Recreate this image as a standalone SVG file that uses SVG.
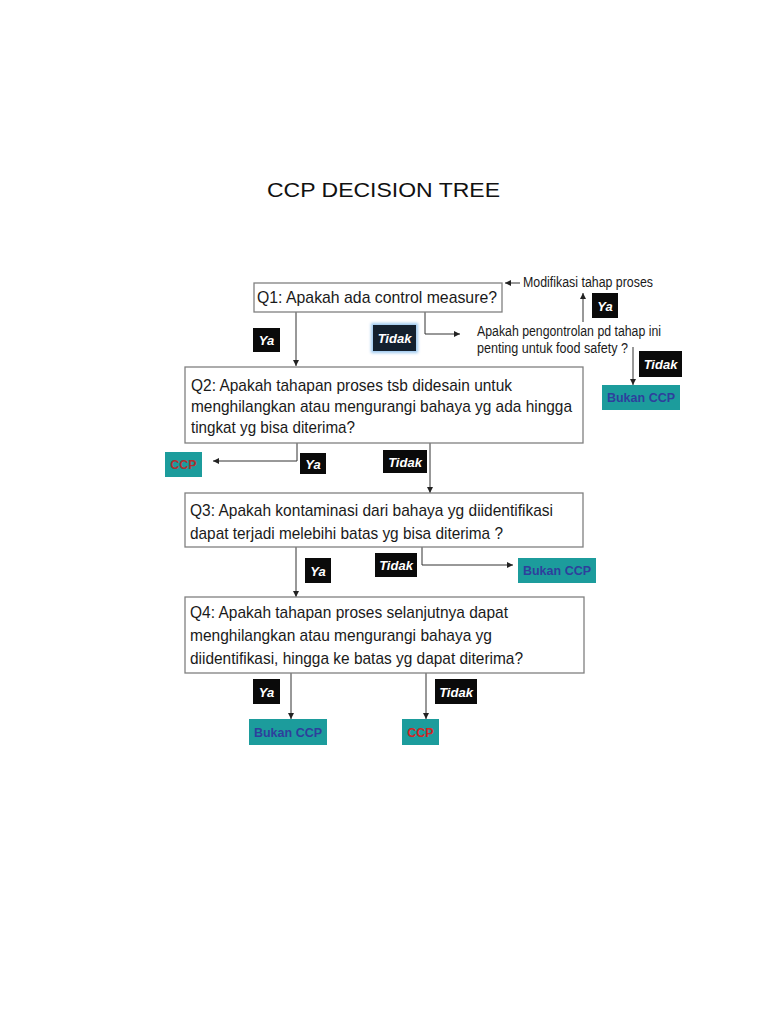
<svg xmlns="http://www.w3.org/2000/svg" width="768" height="1024" viewBox="0 0 768 1024">
<defs>
<marker id="arr" viewBox="0 0 10 10" refX="10" refY="5" markerWidth="6" markerHeight="6" markerUnits="userSpaceOnUse" orient="auto">
<path d="M0,0 L10,5 L0,10 z" fill="#222"/>
</marker>
<filter id="glow" x="-30%" y="-30%" width="160%" height="160%">
<feGaussianBlur stdDeviation="1.5"/>
</filter>
</defs>
<style>
.q{fill:#fff;stroke:#808080;stroke-width:1.3}
.qt{font-family:"Liberation Sans",Arial,sans-serif;font-size:17px;fill:#1a1a1a}
.st{font-family:"Liberation Sans",Arial,sans-serif;font-size:14px;fill:#1a1a1a}
.lb{fill:#0a0a0a}
.lbn{fill:#13202e}
.lt{font-family:"Liberation Sans",Arial,sans-serif;font-size:13px;font-weight:bold;font-style:italic;fill:#fff;text-anchor:middle}
.teal{fill:#1c9c9c}
.bk{font-family:"Liberation Sans",Arial,sans-serif;font-size:12.5px;font-weight:bold;fill:#2e3f9c;text-anchor:middle}
.ccp{font-family:"Liberation Sans",Arial,sans-serif;font-size:12.5px;font-weight:bold;fill:#c42a2a;text-anchor:middle}
.c{fill:none;stroke:#333;stroke-width:1}
</style>
<rect width="768" height="1024" fill="#fff"/>
<text x="267" y="197" font-family="Liberation Sans,Arial,sans-serif" font-size="21" fill="#111" textLength="233" lengthAdjust="spacingAndGlyphs">CCP DECISION TREE</text>

<g id="connectors">
<path class="c" d="M296 312 V366" marker-end="url(#arr)"/>
<path class="c" d="M425 312 V334 H460" marker-end="url(#arr)"/>
<path class="c" d="M583 322 V293" marker-end="url(#arr)"/>
<path class="c" d="M520 283 H505" marker-end="url(#arr)"/>
<path class="c" d="M633 347 V385" marker-end="url(#arr)"/>
<path class="c" d="M297 443 V461 H213" marker-end="url(#arr)"/>
<path class="c" d="M430 443 V493" marker-end="url(#arr)"/>
<path class="c" d="M296 547 V597" marker-end="url(#arr)"/>
<path class="c" d="M422 547 V565 H513" marker-end="url(#arr)"/>
<path class="c" d="M291 673 V719" marker-end="url(#arr)"/>
<path class="c" d="M426 673 V719" marker-end="url(#arr)"/>
</g>

<g id="q1">
<rect class="q" x="254" y="283" width="248" height="29"/>
<text class="qt" x="257" y="303" font-size="18" textLength="240" lengthAdjust="spacingAndGlyphs">Q1: Apakah ada control measure?</text>
</g>

<g id="side-q">
<text class="st" x="477" y="336" textLength="184" lengthAdjust="spacingAndGlyphs">Apakah pengontrolan pd tahap ini</text>
<text class="st" x="477" y="353" textLength="151" lengthAdjust="spacingAndGlyphs">penting untuk food safety ?</text>
</g>

<g id="modifikasi">
<text class="st" x="523" y="287" textLength="130" lengthAdjust="spacingAndGlyphs">Modifikasi  tahap proses</text>
</g>

<g id="q2">
<rect class="q" x="185" y="367" width="398" height="76"/>
<text class="qt" x="191" y="391" textLength="321" lengthAdjust="spacingAndGlyphs">Q2: Apakah tahapan proses tsb didesain untuk</text>
<text class="qt" x="191" y="412" textLength="381" lengthAdjust="spacingAndGlyphs">menghilangkan atau mengurangi bahaya yg ada hingga</text>
<text class="qt" x="191" y="433" textLength="164" lengthAdjust="spacingAndGlyphs">tingkat yg bisa diterima?</text>
</g>

<g id="q3">
<rect class="q" x="185" y="493" width="398" height="54"/>
<text class="qt" x="190" y="516" textLength="363" lengthAdjust="spacingAndGlyphs">Q3: Apakah kontaminasi dari bahaya yg diidentifikasi</text>
<text class="qt" x="190" y="539" textLength="313" lengthAdjust="spacingAndGlyphs">dapat terjadi melebihi batas yg bisa diterima ?</text>
</g>

<g id="q4">
<rect class="q" x="185" y="597" width="399" height="76"/>
<text class="qt" x="190" y="618" textLength="318" lengthAdjust="spacingAndGlyphs">Q4: Apakah tahapan proses selanjutnya dapat</text>
<text class="qt" x="190" y="641" textLength="302" lengthAdjust="spacingAndGlyphs">menghilangkan atau mengurangi bahaya yg</text>
<text class="qt" x="190" y="664" textLength="333" lengthAdjust="spacingAndGlyphs">diidentifikasi, hingga ke batas yg dapat diterima?</text>
</g>

<g id="ya1"><rect class="lb" x="253" y="328" width="27" height="24"/><text class="lt" x="266.5" y="345">Ya</text></g>
<g id="tidak1"><rect x="371" y="323" width="47" height="30" fill="#9cc8ee" filter="url(#glow)"/><rect class="lbn" x="373" y="325" width="43" height="26"/><text class="lt" x="394.5" y="343">Tidak</text></g>
<g id="ya2"><rect class="lb" x="592" y="293" width="26" height="25"/><text class="lt" x="605" y="310.5">Ya</text></g>
<g id="tidak2"><rect class="lb" x="639" y="351" width="43" height="26"/><text class="lt" x="660.5" y="369">Tidak</text></g>
<g id="bukan1"><rect class="teal" x="602" y="385" width="78" height="25"/><text class="bk" x="641" y="402">Bukan CCP</text></g>

<g id="ccp1"><rect class="teal" x="165" y="452" width="37" height="25"/><text class="ccp" x="183.5" y="469" style="fill:#b0302e">CCP</text></g>
<g id="ya3"><rect class="lb" x="300" y="453" width="26" height="21"/><text class="lt" x="313" y="468.5">Ya</text></g>
<g id="tidak3"><rect class="lb" x="383" y="450" width="44" height="23"/><text class="lt" x="405" y="466.5">Tidak</text></g>

<g id="ya4"><rect class="lb" x="305" y="558" width="26" height="25"/><text class="lt" x="318" y="575.5">Ya</text></g>
<g id="tidak4"><rect class="lb" x="375" y="553" width="42" height="24"/><text class="lt" x="396" y="570">Tidak</text></g>
<g id="bukan2"><rect class="teal" x="518" y="558" width="78" height="25"/><text class="bk" x="557" y="575">Bukan CCP</text></g>

<g id="ya5"><rect class="lb" x="253" y="679" width="27" height="25"/><text class="lt" x="266.5" y="696.5">Ya</text></g>
<g id="tidak5"><rect class="lb" x="435" y="679" width="42" height="25"/><text class="lt" x="456" y="696.5">Tidak</text></g>
<g id="bukan3"><rect class="teal" x="249" y="719" width="78" height="26"/><text class="bk" x="288" y="736.5">Bukan CCP</text></g>
<g id="ccp2"><rect class="teal" x="402" y="719" width="37" height="26"/><text class="ccp" x="420.5" y="736.5" style="fill:#d42424">CCP</text></g>
</svg>
